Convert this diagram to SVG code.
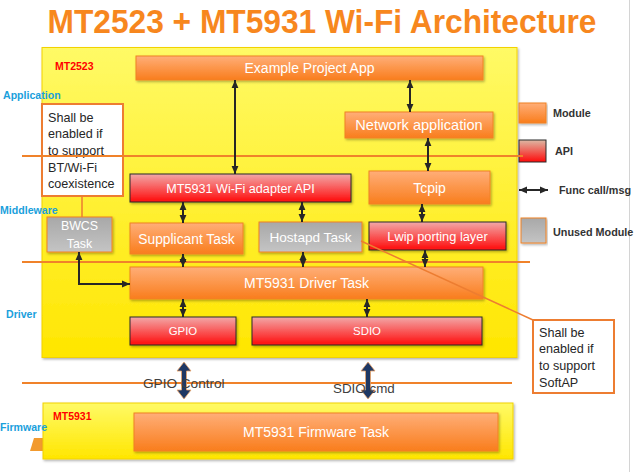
<svg xmlns="http://www.w3.org/2000/svg" width="634" height="472" viewBox="0 0 634 472">
<defs>
<linearGradient id="gYel" x1="0" y1="0" x2="0" y2="1"><stop offset="0" stop-color="#FFFA66"/><stop offset="1" stop-color="#FFE600"/></linearGradient>
<linearGradient id="gMod" x1="0" y1="0" x2="0" y2="1"><stop offset="0" stop-color="#FFAE78"/><stop offset="1" stop-color="#F97D1C"/></linearGradient>
<linearGradient id="gApi" x1="0" y1="0" x2="0" y2="1"><stop offset="0" stop-color="#F2A8A8"/><stop offset="1" stop-color="#FF0A0A"/></linearGradient>
<linearGradient id="gApiL" x1="0" y1="0" x2="0" y2="1"><stop offset="0" stop-color="#DDB8A4"/><stop offset="1" stop-color="#FF0A0A"/></linearGradient>
<linearGradient id="gGray" x1="0" y1="0" x2="0" y2="1"><stop offset="0" stop-color="#A8A8A8"/><stop offset="1" stop-color="#C4C4C4"/></linearGradient>
<filter id="sh" x="-5%" y="-10%" width="110%" height="130%"><feDropShadow dx="1.2" dy="1.5" stdDeviation="0.8" flood-color="#000" flood-opacity="0.3"/></filter>
<marker id="ah" markerUnits="userSpaceOnUse" markerWidth="8" markerHeight="8" viewBox="0 0 8 8" refX="8" refY="4" orient="auto-start-reverse"><path d="M0,0.6 L8,4 L0,7.4 z" fill="#262626"/></marker>
<style>
.mod{fill:url(#gMod);stroke:#F08224;stroke-width:1;filter:url(#sh)}
.api{fill:url(#gApi);stroke:#2A2A2A;stroke-width:1;filter:url(#sh)}
.gray{fill:url(#gGray);stroke:#F08224;stroke-width:1;filter:url(#sh)}
.nt{font-family:"Liberation Sans",Arial,sans-serif;fill:#FFFFFF;text-anchor:middle}
.lay{font-family:"Liberation Sans",Arial,sans-serif;font-weight:bold;fill:#1AA0DC;font-size:10.6px}
.red{font-family:"Liberation Sans",Arial,sans-serif;font-weight:bold;fill:#FF0000;font-size:10.5px}
.leg{font-family:"Liberation Sans",Arial,sans-serif;font-weight:bold;fill:#333333;font-size:10.8px}
.co{font-family:"Liberation Sans",Arial,sans-serif;fill:#262626;font-size:12.6px}
.sep{stroke:#F0822A;stroke-width:2;fill:none}
.arr{stroke:#262626;stroke-width:2;fill:none;marker-start:url(#ah);marker-end:url(#ah)}
.call{fill:#FFFFFF;stroke:#ED7D31;stroke-width:2}
.navy{fill:#1F3864;stroke:#E8A36A;stroke-width:0.8}
</style>
</defs>
<rect x="0" y="0" width="634" height="472" fill="#FFFFFF"/>
<line x1="629.5" y1="0" x2="629.5" y2="472" stroke="#D4D4D4" stroke-width="1"/>

<text x="322" y="33" font-family="'Liberation Sans',Arial,sans-serif" font-weight="bold" font-size="33" fill="#F7871E" text-anchor="middle" textLength="549" lengthAdjust="spacingAndGlyphs">MT2523 + MT5931 Wi-Fi Architecture</text>

<g id="mt2523">
<rect x="42" y="47.5" width="475" height="310" fill="url(#gYel)" stroke="#F2D200" stroke-width="1" filter="url(#sh)"/>
<text class="red" x="55" y="70">MT2523</text>
</g>
<g id="mt5931">
<polygon points="34,438 43,438 43,451 30,451" fill="#F29A2E"/>
<rect x="43" y="403" width="470" height="56" fill="url(#gYel)" stroke="#F2D200" stroke-width="1" filter="url(#sh)"/>
<text class="red" x="53" y="420">MT5931</text>
</g>

<g id="layers">
<text class="lay" x="3" y="99">Application</text>
<text class="lay" x="0" y="214">Middleware</text>
<text class="lay" x="6" y="318">Driver</text>
<text class="lay" x="0" y="431">Firmware</text>
</g>

<g id="example-app"><rect class="mod" x="136" y="56" width="347" height="24"/><text class="nt" x="309.5" y="73" font-size="14">Example Project App</text></g>
<g id="network-app"><rect class="mod" x="345" y="112" width="148" height="26"/><text class="nt" x="419" y="130.2" font-size="14.6">Network application</text></g>
<g id="wifi-api"><rect class="api" x="130" y="174" width="221" height="28"/><text class="nt" x="240.5" y="192.5" font-size="12.6">MT5931 Wi-Fi adapter API</text></g>
<g id="tcpip"><rect class="mod" x="369" y="171" width="121" height="33"/><text class="nt" x="429.5" y="192.5" font-size="14">Tcpip</text></g>
<g id="bwcs"><rect class="gray" x="47" y="217" width="65" height="35"/><text class="nt" x="79.5" y="229.5" font-size="12.4">BWCS</text><text class="nt" x="79.5" y="247.5" font-size="12.4">Task</text></g>
<g id="supplicant"><rect class="mod" x="130" y="223" width="113" height="31"/><text class="nt" x="186.5" y="243.5" font-size="13.8">Supplicant Task</text></g>
<g id="hostapd"><rect class="gray" x="259" y="222" width="103" height="30"/><text class="nt" x="310.5" y="242" font-size="13.6">Hostapd Task</text></g>
<g id="lwip"><rect class="api" x="369" y="222" width="137" height="28"/><text class="nt" x="437.5" y="240.5" font-size="12.8">Lwip porting layer</text></g>
<g id="driver"><rect class="mod" x="130" y="267" width="353" height="32"/><text class="nt" x="306.5" y="288" font-size="14">MT5931 Driver Task</text></g>
<g id="gpio"><rect class="api" x="130" y="317" width="106" height="28"/><text class="nt" x="183" y="335" font-size="11.4">GPIO</text></g>
<g id="sdio"><rect class="api" x="252" y="317" width="230" height="28"/><text class="nt" x="367" y="335" font-size="11.4">SDIO</text></g>
<g id="firmware-task"><rect class="mod" x="134" y="413" width="364" height="38"/><text class="nt" x="316" y="437" font-size="14">MT5931 Firmware Task</text></g>

<g id="callout-bwcs">
<rect class="call" x="42" y="104" width="81" height="92"/>
<text class="co" x="48" y="121.5">Shall be</text>
<text class="co" x="48" y="138">enabled if</text>
<text class="co" x="48" y="155">to support</text>
<text class="co" x="48" y="172">BT/Wi-Fi</text>
<text class="co" x="48" y="188">coexistence</text>
</g>
<g id="callout-softap">
<rect class="call" x="533" y="320" width="81" height="73"/>
<text class="co" x="539" y="336.5">Shall be</text>
<text class="co" x="539" y="353">enabled if</text>
<text class="co" x="539" y="370">to support</text>
<text class="co" x="539" y="386.5">SoftAP</text>
</g>

<g id="legend">
<rect class="mod" x="519" y="103" width="27" height="20"/>
<text class="leg" x="553" y="117">Module</text>
<rect x="519" y="140" width="27" height="22" fill="url(#gApiL)" stroke="#2A2A2A" stroke-width="1"/>
<text class="leg" x="555" y="155">API</text>
<line class="arr" x1="519" y1="190" x2="548" y2="190"/>
<text class="leg" x="559" y="194">Func call/msg</text>
<rect class="gray" x="521" y="218" width="25" height="25"/>
<text class="leg" x="553" y="236">Unused Module</text>
</g>

<g id="separators">
<line class="sep" x1="22" y1="156" x2="523" y2="156"/>
<line class="sep" x1="22" y1="262" x2="530" y2="262"/>
<line class="sep" x1="22" y1="383" x2="512" y2="383"/>
</g>

<g id="connectors">
<line x1="82" y1="196" x2="82" y2="217" stroke="#ED7D31" stroke-width="1.5"/>
<line x1="361" y1="241" x2="533" y2="320" stroke="#ED7D31" stroke-width="1.5"/>
<line class="arr" x1="410" y1="80" x2="410" y2="112"/>
<line class="arr" x1="235" y1="80" x2="235" y2="174"/>
<line class="arr" x1="428" y1="138" x2="428" y2="171"/>
<line class="arr" x1="183" y1="202" x2="183" y2="223"/>
<line class="arr" x1="302" y1="202" x2="302" y2="222"/>
<line class="arr" x1="422" y1="204" x2="422" y2="222"/>
<line class="arr" x1="183" y1="254" x2="183" y2="267"/>
<line class="arr" x1="303" y1="252" x2="303" y2="267"/>
<line class="arr" x1="425" y1="250" x2="425" y2="267"/>
<line class="arr" x1="183" y1="299" x2="183" y2="317"/>
<line class="arr" x1="367" y1="299" x2="367" y2="317"/>
<path class="arr" d="M79,252 L79,284 L130,284"/>
<polygon class="navy" points="184,362 191,371 186.5,371 186.5,390 191,390 184,399 177,390 181.5,390 181.5,371 177,371"/>
<polygon class="navy" points="368,362 375,371 370.5,371 370.5,390 375,390 368,399 361,390 365.5,390 365.5,371 361,371"/>
<text x="143" y="388" font-family="'Liberation Sans',Arial,sans-serif" font-size="13.6" fill="#404040">GPIO Control</text>
<text x="333" y="393" font-family="'Liberation Sans',Arial,sans-serif" font-size="13.4" fill="#404040">SDIO cmd</text>
</g>
</svg>
